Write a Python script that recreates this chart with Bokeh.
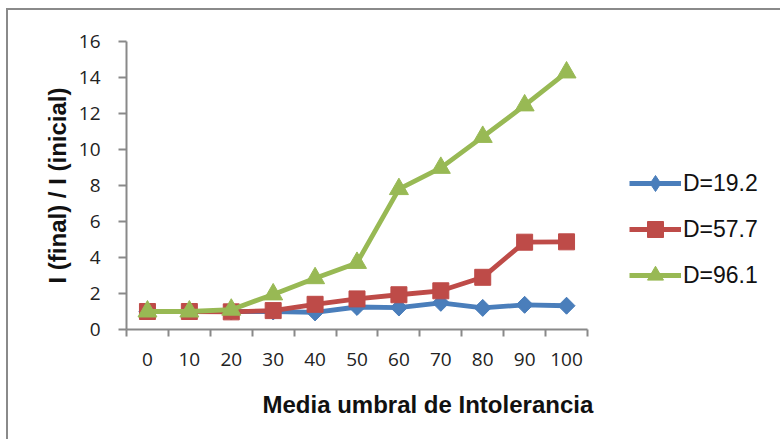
from bokeh.plotting import figure
from bokeh.models import Range1d, FixedTicker, Legend, LegendItem, Title
from bokeh.embed import file_html
from bokeh.resources import INLINE
import numpy as np

categories = [0, 10, 20, 30, 40, 50, 60, 70, 80, 90, 100]
d19 = [1.0, 1.0, 1.0, 1.0, 0.95, 1.25, 1.22, 1.48, 1.2, 1.37, 1.32]
d57 = [1.0, 1.0, 0.98, 1.05, 1.4, 1.7, 1.93, 2.15, 2.9, 4.85, 4.87]
d96 = [1.0, 1.0, 1.1, 1.95, 2.85, 3.7, 7.8, 8.98, 10.7, 12.45, 14.28]
y_ticks = [0, 2, 4, 6, 8, 10, 12, 14, 16]
series_names = ["D=19.2", "D=57.7", "D=96.1"]

GRAY = "#898989"
colors = ["#4A7EBB", "#BE4B48", "#98B954"]

n = len(categories)
xpos = [i + 0.5 for i in range(n)]

W, H = 774, 431
left, right, top, bottom = 118, 5, 31, 112
axis_px = 461                      # pixel length of the category axis
frame_w = W - left - right
px_per_unit = axis_px / n
x_end = frame_w / px_per_unit

p = figure(width=W, height=H, output_backend="svg", toolbar_location=None,
           x_range=Range1d(0, x_end), y_range=Range1d(0, 16),
           min_border_left=left, min_border_right=right, min_border_top=top, min_border_bottom=bottom)
p.styles = {"border-top": "2px solid #8a8a8a", "border-left": "2px solid #8a8a8a",
            "margin-left": "6px", "margin-top": "8px"}
p.outline_line_color = None
p.xgrid.grid_line_color = None
p.ygrid.grid_line_color = None

# x axis
xa = p.xaxis[0]
xa.bounds = (0, n)
xa.ticker = FixedTicker(ticks=xpos, minor_ticks=list(range(n + 1)))
xa.major_label_overrides = {x: str(c) for x, c in zip(xpos, categories)}
xa.major_tick_out = 0
xa.major_tick_in = 0
xa.minor_tick_out = 7
xa.minor_tick_in = 0
xa.minor_tick_line_color = GRAY
xa.minor_tick_line_width = 2
xa.axis_line_color = GRAY
xa.axis_line_width = 2
xa.major_label_text_font = "Open Sans"
xa.major_label_text_font_size = "19px"
xa.major_label_text_color = "#222222"
xa.major_label_standoff = 16

# x-axis title, shifted right of the plot centre as in the original
xt = Title(text="Media umbral de Intolerancia", align="left", offset=136,
           text_font="Liberation Sans", text_font_style="bold", text_font_size="24px",
           text_color="#111111", standoff=40)
p.add_layout(xt, "below")

# y axis
ya = p.yaxis[0]
ya.ticker = FixedTicker(ticks=y_ticks)
ya.major_tick_out = 8
ya.major_tick_in = 0
ya.minor_tick_line_color = None
ya.major_tick_line_color = GRAY
ya.major_tick_line_width = 2
ya.axis_line_color = GRAY
ya.axis_line_width = 2
ya.major_label_text_font = "Open Sans"
ya.major_label_text_font_size = "19px"
ya.major_label_text_color = "#222222"
ya.major_label_standoff = 18
ya.axis_label = "I (final) / I (inicial)"
ya.axis_label_text_font = "Liberation Sans"
ya.axis_label_text_font_style = "bold"
ya.axis_label_text_font_size = "24px"
ya.axis_label_text_color = "#111111"
ya.axis_label_standoff = 5

items = []
markers = [("square", 12, np.pi / 4), ("square", 16, 0), ("triangle", 19, 0)]
for name, vals, col, (mk, sz, ang) in zip(series_names, [d19, d57, d96], colors, markers):
    r1 = p.line(xpos, vals, line_color=col, line_width=4.8)
    r2 = p.scatter(xpos, vals, marker=mk, size=sz, angle=ang, fill_color=col, line_color=col)
    if ang != 0:
        # a diamond inside the rotated square, so that the legend shows a diamond too
        r2 = p.scatter(xpos, vals, marker="diamond", size=16, fill_color=col, line_color=col)
    items.append(LegendItem(label=name, renderers=[r1, r2]))

legend = Legend(items=items, location=(axis_px + 42, 34), padding=0, margin=0, spacing=6,
                glyph_width=52, glyph_height=40, label_height=40, label_standoff=2,
                label_text_font="Liberation Sans", label_text_font_size="23px",
                label_text_color="#111111", border_line_color=None, background_fill_alpha=0)
p.add_layout(legend, "center")

open("out.html", "w").write(file_html(p, INLINE))
